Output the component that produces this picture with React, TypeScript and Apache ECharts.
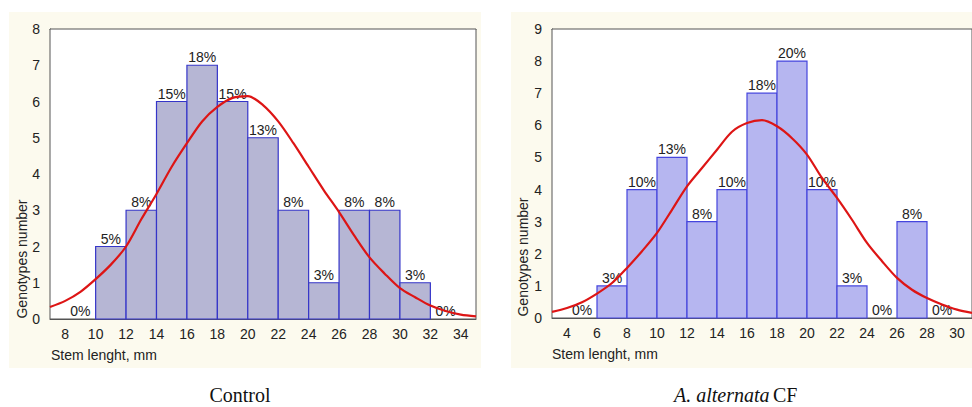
import React, { useEffect, useRef } from "react";
import * as echarts from "echarts";

// ---- Control panel data ----
const ctrlBinStarts = [8, 10, 12, 14, 16, 18, 20, 22, 24, 26, 28, 30, 32];
const ctrlCounts = [0, 2, 3, 6, 7, 6, 5, 3, 1, 3, 3, 1, 0];
const ctrlPercents = ["0%", "5%", "8%", "15%", "18%", "15%", "13%", "8%", "3%", "8%", "8%", "3%", "0%"];
const ctrlCurveX = [7, 8, 9, 10, 11, 12, 13, 14, 15, 16, 17, 18, 19, 20, 21, 22, 23, 24, 25, 26, 27, 28, 29, 30, 31, 32, 33, 34, 35];
const ctrlCurveY = [0.33, 0.5, 0.75, 1.1, 1.5, 2.0, 2.75, 3.45, 4.2, 4.85, 5.45, 5.85, 6.1, 6.15, 5.9, 5.45, 4.85, 4.2, 3.55, 2.95, 2.3, 1.7, 1.25, 0.85, 0.6, 0.37, 0.22, 0.12, 0.07];
const ctrlTicks = [8, 10, 12, 14, 16, 18, 20, 22, 24, 26, 28, 30, 32, 34];

// ---- A. alternata CF panel data ----
const altBinStarts = [4, 6, 8, 10, 12, 14, 16, 18, 20, 22, 24, 26, 28];
const altCounts = [0, 1, 4, 5, 3, 4, 7, 8, 4, 1, 0, 3, 0];
const altPercents = ["0%", "3%", "10%", "13%", "8%", "10%", "18%", "20%", "10%", "3%", "0%", "8%", "0%"];
const altCurveX = [3, 4, 5, 6, 7, 8, 9, 10, 11, 12, 13, 14, 15, 16, 17, 18, 19, 20, 21, 22, 23, 24, 25, 26, 27, 28, 29, 30, 31];
const altCurveY = [0.19, 0.31, 0.49, 0.76, 1.09, 1.56, 2.08, 2.65, 3.37, 4.1, 4.67, 5.24, 5.8, 6.07, 6.16, 5.97, 5.6, 5.09, 4.36, 3.74, 3.06, 2.34, 1.77, 1.25, 0.88, 0.62, 0.42, 0.26, 0.16];
const altTicks = [4, 6, 8, 10, 12, 14, 16, 18, 20, 22, 24, 26, 28, 30];

const FONT = "Liberation Sans, Arial, sans-serif";
const SERIF = `"Liberation Serif", "Times New Roman", serif`;

function barSeries(idx: number, starts: number[], counts: number[], pcts: string[], fill: string, stroke: string) {
  return {
    type: "custom",
    xAxisIndex: idx * 2,
    yAxisIndex: idx,
    z: 2,
    data: starts.map((s, i) => [s, s + 2, counts[i]]),
    renderItem: (params: any, api: any) => {
      const x0 = api.value(0);
      const x1 = api.value(1);
      const v = api.value(2);
      const p0 = api.coord([x0, v]);
      const p1 = api.coord([x1, 0]);
      const children: any[] = [];
      if (v > 0) {
        children.push({
          type: "rect",
          shape: { x: p0[0], y: p0[1], width: p1[0] - p0[0], height: p1[1] - p0[1] },
          style: { fill, stroke, lineWidth: 1.2 },
        });
      }
      children.push({
        type: "text",
        x: (p0[0] + p1[0]) / 2,
        y: p0[1] - 1,
        style: {
          text: pcts[params.dataIndex],
          textAlign: "center",
          textVerticalAlign: "bottom",
          font: `14px ${FONT}`,
          fill: "#222",
        },
      });
      return { type: "group", children };
    },
  };
}

function curveSeries(idx: number, xs: number[], ys: number[]) {
  return {
    type: "line",
    xAxisIndex: idx * 2,
    yAxisIndex: idx,
    z: 5,
    smooth: 0.3,
    showSymbol: false,
    symbol: "none",
    lineStyle: { color: "#dd1515", width: 2.2 },
    data: xs.map((x, i) => [x, ys[i]]),
  };
}

function xAxes(grid: number, min: number, max: number, ticks: number[]) {
  return [
    {
      type: "value",
      gridIndex: grid,
      min,
      max,
      position: "bottom",
      axisLine: { show: true, lineStyle: { color: "#555", width: 1 } },
      axisTick: { show: false },
      axisLabel: { customValues: ticks, color: "#222", fontSize: 14, fontFamily: FONT, margin: 8 },
      splitLine: { show: false },
    },
    {
      type: "value",
      gridIndex: grid,
      min,
      max,
      position: "top",
      axisLine: { show: true, lineStyle: { color: "#555", width: 1 } },
      axisTick: { show: true, inside: true, length: 4, customValues: ticks, lineStyle: { color: "#555" } },
      axisLabel: { show: false },
      splitLine: { show: false },
    },
  ];
}

function yAxis(grid: number, max: number) {
  return {
    type: "value",
    gridIndex: grid,
    min: 0,
    max,
    interval: 1,
    axisLine: { show: true, lineStyle: { color: "#555", width: 1 } },
    axisTick: { show: false },
    axisLabel: { color: "#222", fontSize: 14, fontFamily: FONT, margin: 10 },
    splitLine: { show: true, lineStyle: { color: "#d9d9d9", type: "dashed", width: 1 } },
  };
}

export default function App() {
  const ref = useRef<HTMLDivElement>(null);
  useEffect(() => {
    if (!ref.current) return;
    const chart = echarts.init(ref.current, null, { renderer: "svg" });
    const cream = "#fcfaee";
    chart.setOption({
      animation: false,
      backgroundColor: "#ffffff",
      grid: [
        { left: 50, top: 29, width: 426, height: 290, show: true, backgroundColor: "#ffffff", borderColor: "#555", borderWidth: 1, z: 1 },
        { left: 552, top: 29, width: 420, height: 289, show: true, backgroundColor: "#ffffff", borderColor: "#555", borderWidth: 1, z: 1 },
      ],
      xAxis: [...xAxes(0, 7, 35, ctrlTicks), ...xAxes(1, 3, 31, altTicks)],
      yAxis: [yAxis(0, 8), yAxis(1, 9)],
      graphic: [
        { type: "rect", z: -10, shape: { x: 9, y: 12, width: 472, height: 356 }, style: { fill: cream } },
        { type: "rect", z: -10, shape: { x: 511, y: 12, width: 461, height: 356 }, style: { fill: cream } },
        {
          type: "text", x: 22, y: 259, rotation: Math.PI / 2,
          style: { text: "Genotypes number", font: `14px ${FONT}`, fill: "#222", textAlign: "center", textVerticalAlign: "middle" },
        },
        {
          type: "text", x: 523, y: 257, rotation: Math.PI / 2,
          style: { text: "Genotypes number", font: `14px ${FONT}`, fill: "#222", textAlign: "center", textVerticalAlign: "middle" },
        },
        {
          type: "text", x: 51, y: 355,
          style: { text: "Stem lenght, mm", font: `14px ${FONT}`, fill: "#222", textAlign: "left", textVerticalAlign: "middle" },
        },
        {
          type: "text", x: 552, y: 354,
          style: { text: "Stem lenght, mm", font: `14px ${FONT}`, fill: "#222", textAlign: "left", textVerticalAlign: "middle" },
        },
        {
          type: "text", x: 240, y: 395,
          style: { text: "Control", font: `20px ${SERIF}`, fill: "#111", textAlign: "center", textVerticalAlign: "middle" },
        },
        {
          type: "text", x: 674, y: 395,
          style: {
            text: "{i|A. alternata} {r|CF}",
            textAlign: "left",
            textVerticalAlign: "middle",
            fill: "#111",
            rich: {
              i: { font: `italic 20px ${SERIF}`, fill: "#111" },
              r: { font: `20px ${SERIF}`, fill: "#111" },
            },
          },
        },
      ],
      series: [
        barSeries(0, ctrlBinStarts, ctrlCounts, ctrlPercents, "#b6b6d4", "#3535c8"),
        curveSeries(0, ctrlCurveX, ctrlCurveY),
        barSeries(1, altBinStarts, altCounts, altPercents, "#b6b6f0", "#4545dd"),
        curveSeries(1, altCurveX, altCurveY),
      ],
    });
    return () => chart.dispose();
  }, []);
  return (
    <div
      ref={ref}
      style={{ position: "absolute", left: 0, top: 0, width: 972, height: 407 }}
    />
  );
}
